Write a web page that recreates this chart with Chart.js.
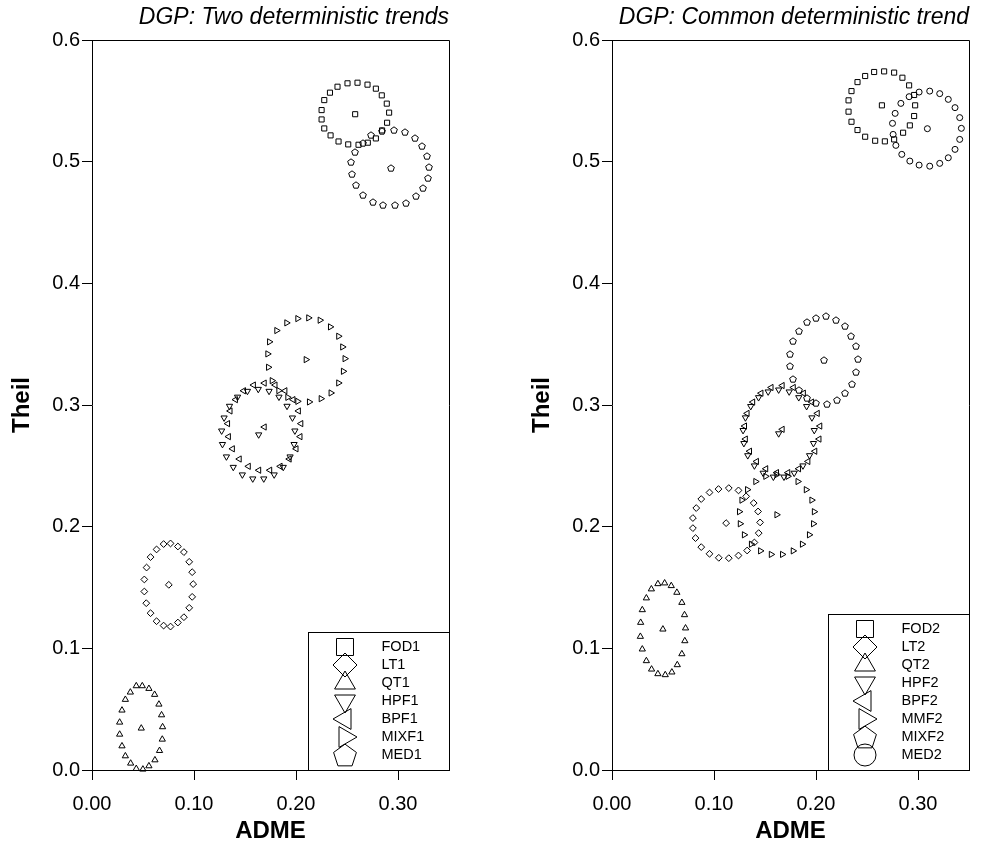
<!DOCTYPE html>
<html>
<head>
<meta charset="utf-8">
<title>ADME vs Theil</title>
<script src="https://cdn.jsdelivr.net/npm/chart.js@4.4.1/dist/chart.umd.min.js"></script>
<style>
  html, body { margin: 0; padding: 0; background: #fff; }
  body { width: 998px; height: 848px; position: relative; overflow: hidden; }
  canvas { position: absolute; top: 0; }
  #left { left: 0; }
  #right { left: 520px; }
</style>
</head>
<body>
<canvas id="left" width="500" height="848"></canvas>
<canvas id="right" width="478" height="848"></canvas>
<script>
// axes
const xTicks = [0, 0.1, 0.2, 0.3];
const xTickLabels = ['0.00', '0.10', '0.20', '0.30'];
const yTicks = [0, 0.1, 0.2, 0.3, 0.4, 0.5, 0.6];
const yTickLabels = ['0.0', '0.1', '0.2', '0.3', '0.4', '0.5', '0.6'];

// left panel: two deterministic trends
const leftSeries = ['FOD1', 'LT1', 'QT1', 'HPF1', 'BPF1', 'MIXF1', 'MED1'];
const leftCentreX = [0.2580, 0.0753, 0.0483, 0.1634, 0.1690, 0.2098, 0.2930];
const leftCentreY = [0.5390, 0.1522, 0.0343, 0.2756, 0.2819, 0.3373, 0.4947];

const fod1X = [0.2505, 0.2603, 0.2701, 0.2783, 0.2841, 0.2890, 0.2913, 0.2893, 0.2844, 0.2783, 0.2704, 0.2613, 0.2512, 0.2417, 0.2339, 0.2277, 0.2251, 0.2251, 0.2277, 0.2333, 0.2407];
const fod1Y = [0.5644, 0.5649, 0.5633, 0.5600, 0.5545, 0.5477, 0.5403, 0.5320, 0.5257, 0.5191, 0.5156, 0.5139, 0.5142, 0.5166, 0.5216, 0.5273, 0.5347, 0.5424, 0.5506, 0.5567, 0.5616];
const lt1X = [0.0702, 0.0770, 0.0842, 0.0901, 0.0953, 0.0982, 0.0992, 0.0982, 0.0953, 0.0901, 0.0842, 0.0770, 0.0702, 0.0633, 0.0574, 0.0532, 0.0513, 0.0513, 0.0535, 0.0574, 0.0633];
const lt1Y = [0.1857, 0.1862, 0.1837, 0.1791, 0.1711, 0.1626, 0.1528, 0.1423, 0.1333, 0.1256, 0.1212, 0.1179, 0.1187, 0.1223, 0.1289, 0.1371, 0.1467, 0.1566, 0.1664, 0.1750, 0.1813];
const qt1X = [0.0434, 0.0493, 0.0558, 0.0614, 0.0656, 0.0682, 0.0692, 0.0689, 0.0662, 0.0617, 0.0558, 0.0499, 0.0434, 0.0379, 0.0327, 0.0294, 0.0271, 0.0271, 0.0294, 0.0327, 0.0376];
const qt1Y = [0.0691, 0.0691, 0.0669, 0.0620, 0.0540, 0.0452, 0.0354, 0.0252, 0.0159, 0.0082, 0.0033, 0.0006, 0.0011, 0.0055, 0.0115, 0.0197, 0.0293, 0.0392, 0.0491, 0.0579, 0.0639];
const hpf1X = [0.1684, 0.1786, 0.1875, 0.1942, 0.1981, 0.1989, 0.1965, 0.1912, 0.1833, 0.1736, 0.1630, 0.1524, 0.1427, 0.1348, 0.1295, 0.1271, 0.1279, 0.1318, 0.1385, 0.1474, 0.1576];
const hpf1Y = [0.2394, 0.2427, 0.2489, 0.2575, 0.2677, 0.2788, 0.2895, 0.2991, 0.3066, 0.3114, 0.3130, 0.3114, 0.3066, 0.2991, 0.2895, 0.2788, 0.2677, 0.2575, 0.2489, 0.2427, 0.2394];
const bpf1X = [0.1744, 0.1846, 0.1935, 0.2002, 0.2041, 0.2049, 0.2025, 0.1972, 0.1893, 0.1796, 0.1690, 0.1584, 0.1487, 0.1408, 0.1355, 0.1331, 0.1339, 0.1378, 0.1445, 0.1534, 0.1636];
const bpf1Y = [0.2464, 0.2496, 0.2556, 0.2640, 0.2740, 0.2847, 0.2951, 0.3044, 0.3117, 0.3164, 0.3180, 0.3164, 0.3117, 0.3044, 0.2951, 0.2847, 0.2740, 0.2640, 0.2556, 0.2496, 0.2464];
const mixf1X = [0.2016, 0.2123, 0.2235, 0.2336, 0.2417, 0.2456, 0.2479, 0.2463, 0.2417, 0.2342, 0.2245, 0.2130, 0.2016, 0.1918, 0.1830, 0.1765, 0.1729, 0.1722, 0.1739, 0.1810, 0.1908];
const mixf1Y = [0.3710, 0.3716, 0.3697, 0.3642, 0.3565, 0.3477, 0.3381, 0.3277, 0.3181, 0.3099, 0.3052, 0.3025, 0.3030, 0.3063, 0.3118, 0.3200, 0.3310, 0.3420, 0.3519, 0.3612, 0.3675];
const med1X = [0.2962, 0.3069, 0.3167, 0.3239, 0.3285, 0.3304, 0.3291, 0.3249, 0.3174, 0.3076, 0.2972, 0.2854, 0.2750, 0.2652, 0.2587, 0.2548, 0.2541, 0.2580, 0.2652, 0.2737, 0.2847];
const med1Y = [0.5257, 0.5243, 0.5197, 0.5128, 0.5046, 0.4955, 0.4862, 0.4783, 0.4717, 0.4662, 0.4640, 0.4646, 0.4667, 0.4728, 0.4807, 0.4901, 0.4996, 0.5082, 0.5156, 0.5218, 0.5251];

// right panel: common deterministic trend
const rightSeries = ['FOD2', 'LT2', 'QT2', 'HPF2', 'BPF2', 'MMF2', 'MIXF2', 'MED2'];
const rightCentreX = [0.2646, 0.1119, 0.0499, 0.1634, 0.1670, 0.1615, 0.2074, 0.3092];
const rightCentreY = [0.5463, 0.2029, 0.1157, 0.2765, 0.2800, 0.2098, 0.3373, 0.5271];

const fod2X = [0.2570, 0.2668, 0.2766, 0.2847, 0.2913, 0.2962, 0.2972, 0.2962, 0.2920, 0.2854, 0.2766, 0.2675, 0.2580, 0.2482, 0.2407, 0.2348, 0.2319, 0.2319, 0.2348, 0.2407, 0.2482];
const fod2Y = [0.5737, 0.5742, 0.5732, 0.5690, 0.5627, 0.5548, 0.5463, 0.5375, 0.5298, 0.5238, 0.5183, 0.5167, 0.5172, 0.5205, 0.5260, 0.5328, 0.5411, 0.5504, 0.5580, 0.5654, 0.5704];
const lt2X = [0.1044, 0.1145, 0.1240, 0.1315, 0.1389, 0.1432, 0.1452, 0.1438, 0.1396, 0.1325, 0.1240, 0.1145, 0.1047, 0.0956, 0.0875, 0.0819, 0.0793, 0.0793, 0.0826, 0.0875, 0.0956];
const lt2Y = [0.2309, 0.2317, 0.2298, 0.2249, 0.2194, 0.2125, 0.2035, 0.1947, 0.1870, 0.1804, 0.1763, 0.1741, 0.1744, 0.1777, 0.1832, 0.1906, 0.1988, 0.2071, 0.2153, 0.2227, 0.2281];
const qt2X = [0.0450, 0.0516, 0.0581, 0.0636, 0.0685, 0.0711, 0.0721, 0.0714, 0.0685, 0.0640, 0.0587, 0.0522, 0.0450, 0.0388, 0.0337, 0.0297, 0.0278, 0.0281, 0.0297, 0.0337, 0.0386];
const qt2Y = [0.1530, 0.1536, 0.1514, 0.1459, 0.1376, 0.1275, 0.1166, 0.1061, 0.0954, 0.0864, 0.0804, 0.0782, 0.0790, 0.0828, 0.0897, 0.0993, 0.1097, 0.1212, 0.1316, 0.1413, 0.1487];
const hpf2X = [0.1686, 0.1786, 0.1872, 0.1937, 0.1975, 0.1983, 0.1960, 0.1908, 0.1831, 0.1737, 0.1634, 0.1531, 0.1437, 0.1360, 0.1308, 0.1285, 0.1293, 0.1331, 0.1396, 0.1482, 0.1582];
const hpf2Y = [0.2409, 0.2441, 0.2501, 0.2585, 0.2685, 0.2792, 0.2896, 0.2989, 0.3062, 0.3109, 0.3125, 0.3109, 0.3062, 0.2989, 0.2896, 0.2792, 0.2685, 0.2585, 0.2501, 0.2441, 0.2409];
const bpf2X = [0.1725, 0.1831, 0.1922, 0.1990, 0.2031, 0.2039, 0.2014, 0.1959, 0.1878, 0.1779, 0.1670, 0.1561, 0.1462, 0.1381, 0.1326, 0.1301, 0.1309, 0.1350, 0.1418, 0.1509, 0.1615];
const bpf2Y = [0.2444, 0.2476, 0.2536, 0.2620, 0.2720, 0.2827, 0.2931, 0.3024, 0.3097, 0.3144, 0.3160, 0.3144, 0.3097, 0.3024, 0.2931, 0.2827, 0.2720, 0.2620, 0.2536, 0.2476, 0.2444];
const mmf2X = [0.1670, 0.1775, 0.1865, 0.1934, 0.1974, 0.1982, 0.1958, 0.1903, 0.1822, 0.1724, 0.1615, 0.1506, 0.1408, 0.1327, 0.1272, 0.1248, 0.1256, 0.1296, 0.1365, 0.1455, 0.1560];
const mmf2Y = [0.1772, 0.1801, 0.1856, 0.1933, 0.2024, 0.2123, 0.2218, 0.2304, 0.2371, 0.2414, 0.2428, 0.2414, 0.2371, 0.2304, 0.2218, 0.2123, 0.2024, 0.1933, 0.1856, 0.1801, 0.1772];
const mixf2X = [0.2000, 0.2098, 0.2196, 0.2284, 0.2348, 0.2391, 0.2407, 0.2397, 0.2352, 0.2287, 0.2202, 0.2104, 0.2000, 0.1908, 0.1830, 0.1778, 0.1746, 0.1749, 0.1771, 0.1830, 0.1908];
const mixf2Y = [0.3716, 0.3729, 0.3702, 0.3647, 0.3571, 0.3483, 0.3379, 0.3272, 0.3176, 0.3099, 0.3044, 0.3011, 0.3017, 0.3058, 0.3126, 0.3214, 0.3318, 0.3422, 0.3524, 0.3612, 0.3680];
const med2X = [0.3011, 0.3115, 0.3213, 0.3297, 0.3363, 0.3409, 0.3425, 0.3409, 0.3363, 0.3297, 0.3213, 0.3115, 0.3011, 0.2920, 0.2841, 0.2783, 0.2756, 0.2750, 0.2776, 0.2832, 0.2913];
const med2Y = [0.5572, 0.5580, 0.5559, 0.5512, 0.5444, 0.5362, 0.5274, 0.5183, 0.5101, 0.5032, 0.4986, 0.4963, 0.4972, 0.5005, 0.5060, 0.5134, 0.5224, 0.5315, 0.5397, 0.5479, 0.5534];

const leftRingX = [fod1X, lt1X, qt1X, hpf1X, bpf1X, mixf1X, med1X];
const leftRingY = [fod1Y, lt1Y, qt1Y, hpf1Y, bpf1Y, mixf1Y, med1Y];
const rightRingX = [fod2X, lt2X, qt2X, hpf2X, bpf2X, mmf2X, mixf2X, med2X];
const rightRingY = [fod2Y, lt2Y, qt2Y, hpf2Y, bpf2Y, mmf2Y, mixf2Y, med2Y];

Chart.defaults.font.family = '"Liberation Sans", Arial, Helvetica, sans-serif';
Chart.defaults.color = '#000';

// chart.js has no pentagon, so draw one into a small canvas
function pentagon(r) {
  const size = 2 * Math.ceil(r) + 4;
  const c = document.createElement('canvas');
  c.width = size;
  c.height = size;
  const ctx = c.getContext('2d');
  ctx.strokeStyle = '#000';
  ctx.lineWidth = 1;
  ctx.beginPath();
  for (let i = 0; i < 5; i++) {
    const a = -Math.PI / 2 + i * 2 * Math.PI / 5;
    const px = size / 2 + r * Math.cos(a);
    const py = size / 2 + 0.095 * r + r * Math.sin(a);
    if (i === 0) ctx.moveTo(px, py); else ctx.lineTo(px, py);
  }
  ctx.closePath();
  ctx.stroke();
  return c;
}

// marker sequence, same order in both panels
const markers = [
  { style: 'rect', rotation: 0, r: 3.6, big: 12 },
  { style: 'rectRot', rotation: 0, r: 3.4, big: 12 },
  { style: 'triangle', rotation: 0, r: 3.6, big: 12 },
  { style: 'triangle', rotation: 180, r: 3.6, big: 12 },
  { style: 'triangle', rotation: 270, r: 3.6, big: 12 },
  { style: 'triangle', rotation: 90, r: 3.6, big: 12 },
  { style: pentagon(3.5), legendStyle: pentagon(12), rotation: 0, r: 3.5, big: 12 },
  { style: 'circle', rotation: 0, r: 3, big: 11 }
];

function buildDatasets(names, centreX, centreY, ringX, ringY) {
  return names.map((name, i) => {
    const m = markers[i];
    const pts = ringX[i].map((x, k) => ({ x: x, y: ringY[i][k] }));
    pts.push({ x: centreX[i], y: centreY[i] });
    return {
      label: name,
      data: pts,
      pointStyle: m.style,
      rotation: m.rotation,
      pointRadius: m.r,
      borderColor: '#000',
      backgroundColor: 'rgba(0,0,0,0)',
      borderWidth: 1,
      showLine: false,
      clip: false
    };
  });
}

// box round the plot (chart.js only draws left and bottom axes)
const frame = {
  id: 'frame',
  beforeDatasetsDraw(chart) {
    const { ctx, chartArea: a } = chart;
    ctx.save();
    ctx.strokeStyle = '#000';
    ctx.lineWidth = 1;
    ctx.beginPath();
    ctx.moveTo(Math.round(a.left), Math.round(a.top) + 0.5);
    ctx.lineTo(Math.round(a.right) + 0.5, Math.round(a.top) + 0.5);
    ctx.lineTo(Math.round(a.right) + 0.5, Math.round(a.bottom));
    ctx.stroke();
    ctx.restore();
    // keep the pentagon images crisp
    ctx.imageSmoothingEnabled = false;
  }
};

// legend sitting in the bottom right corner of the plot
const cornerLegend = {
  id: 'cornerLegend',
  afterDatasetsDraw(chart) {
    const { ctx, chartArea: a } = chart;
    const sets = chart.data.datasets;
    const rowH = 18;
    const w = 141;
    const h = sets.length * rowH + 12;
    const right = Math.round(a.right) + 0.5;
    const bottom = Math.round(a.bottom) + 0.5;
    const left = right - w;
    const top = bottom - h;
    ctx.save();
    ctx.imageSmoothingEnabled = false;
    ctx.fillStyle = '#fff';
    ctx.fillRect(left, top, w, h);
    ctx.strokeStyle = '#000';
    ctx.lineWidth = 1;
    ctx.strokeRect(left, top, w, h);

    sets.forEach((ds, i) => {
      const m = markers[i];
      const y = Math.round(top + 14 + i * rowH);
      const x = Math.round(left + 36);
      ctx.fillStyle = 'rgba(0,0,0,0)';
      ctx.strokeStyle = '#000';
      ctx.lineWidth = 1;
      Chart.helpers.drawPoint(ctx, {
        pointStyle: m.legendStyle || m.style,
        rotation: m.rotation,
        radius: m.big,
        borderWidth: 1
      }, x, y);
      ctx.fillStyle = '#000';
      ctx.font = '14.5px "Liberation Sans", Arial, sans-serif';
      ctx.textAlign = 'left';
      ctx.textBaseline = 'middle';
      ctx.fillText(ds.label, left + 73, y);
    });
    ctx.restore();
  }
};

function makePanel(id, title, datasets, rightPad) {
  return new Chart(document.getElementById(id), {
    type: 'scatter',
    data: { datasets: datasets },
    plugins: [frame, cornerLegend],
    options: {
      responsive: false,
      animation: false,
      devicePixelRatio: 1,
      events: [],
      layout: { padding: { left: 0, right: rightPad, top: 0, bottom: 0 } },
      plugins: {
        legend: { display: false },
        tooltip: { enabled: false },
        title: {
          display: true,
          text: title,
          align: 'end',
          fullSize: false,
          color: '#000',
          font: { size: 23, style: 'italic', weight: 'normal' },
          padding: { top: 4, bottom: 8.4 }
        }
      },
      scales: {
        x: {
          type: 'linear',
          position: 'bottom',
          min: 0,
          max: 0.35,
          afterBuildTicks: s => { s.ticks = xTicks.map(v => ({ value: v })); },
          afterFit: s => { s.height = 78; },
          ticks: {
            callback: (v, i) => xTickLabels[i],
            padding: 12,
            maxRotation: 0,
            autoSkip: false,
            color: '#000',
            font: { size: 20 }
          },
          grid: { drawOnChartArea: false, drawTicks: true, tickLength: 10, color: '#000' },
          border: { color: '#000', width: 1 },
          title: {
            display: true,
            text: 'ADME',
            color: '#000',
            font: { size: 24, weight: 'bold' },
            padding: { top: 0, bottom: 2 }
          }
        },
        y: {
          type: 'linear',
          min: 0,
          max: 0.6,
          afterBuildTicks: s => { s.ticks = yTicks.map(v => ({ value: v })); },
          afterFit: s => { s.width = 92; },
          ticks: {
            callback: (v, i) => yTickLabels[i],
            padding: 2,
            autoSkip: false,
            color: '#000',
            font: { size: 20 }
          },
          grid: { drawOnChartArea: false, drawTicks: true, tickLength: 10, color: '#000' },
          border: { color: '#000', width: 1 },
          title: {
            display: true,
            text: 'Theil',
            color: '#000',
            font: { size: 24, weight: 'bold' },
            padding: { top: 8, bottom: 0 }
          }
        }
      }
    }
  });
}

makePanel('left', 'DGP: Two deterministic trends',
  buildDatasets(leftSeries, leftCentreX, leftCentreY, leftRingX, leftRingY), 51);
makePanel('right', 'DGP: Common deterministic trend',
  buildDatasets(rightSeries, rightCentreX, rightCentreY, rightRingX, rightRingY), 29);
</script>
</body>
</html>
